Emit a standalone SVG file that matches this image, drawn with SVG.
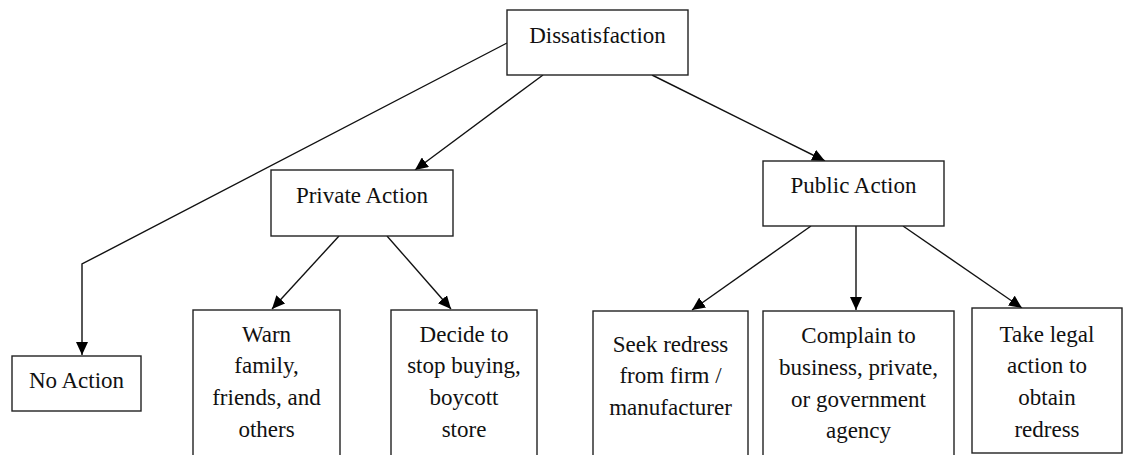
<svg xmlns="http://www.w3.org/2000/svg" width="1123" height="455" viewBox="0 0 1123 455">
  <defs>
    <marker id="arrow" markerUnits="userSpaceOnUse" markerWidth="14" markerHeight="12" refX="13" refY="6" orient="auto">
      <path d="M0,0 L13,6 L0,12 Z" fill="#000"/>
    </marker>
    <style>
      .box { fill: #fff; stroke: #222; stroke-width: 1.4; }
      .lbl { font-size: 23px; fill: #111; text-anchor: middle; }
      .conn { fill: none; stroke: #111; stroke-width: 1.4; marker-end: url(#arrow); }
    </style>
  </defs>

  <rect width="1123" height="455" fill="#fff"/>

  <!-- connectors -->
  <g id="connectors">
    <polyline class="conn" points="507,43 82,264 82,355"/>
    <line class="conn" x1="543" y1="75" x2="415" y2="170"/>
    <line class="conn" x1="652" y1="75" x2="825" y2="161"/>
    <line class="conn" x1="339" y1="236" x2="272" y2="309"/>
    <line class="conn" x1="387" y1="236" x2="451" y2="309"/>
    <line class="conn" x1="811" y1="226" x2="692" y2="310"/>
    <line class="conn" x1="856" y1="226" x2="856" y2="310"/>
    <line class="conn" x1="903" y1="226" x2="1022" y2="308"/>
  </g>

  <g font-family="'Liberation Serif', 'DejaVu Serif', serif">
  <g id="dissatisfaction">
    <rect class="box" x="507" y="10" width="181" height="65"/>
    <text class="lbl" x="597.5" y="43">Dissatisfaction</text>
  </g>

  <g id="private-action">
    <rect class="box" x="271" y="170" width="182" height="66"/>
    <text class="lbl" x="362" y="203">Private Action</text>
  </g>

  <g id="public-action">
    <rect class="box" x="763" y="161" width="181" height="65"/>
    <text class="lbl" x="853.5" y="193">Public Action</text>
  </g>

  <g id="no-action">
    <rect class="box" x="12" y="356" width="129" height="55"/>
    <text class="lbl" x="76.5" y="388">No Action</text>
  </g>

  <g id="warn">
    <rect class="box" x="193" y="310" width="147" height="160"/>
    <text class="lbl" x="266.5" y="342">Warn</text>
    <text class="lbl" x="266.5" y="373">family,</text>
    <text class="lbl" x="266.5" y="405">friends, and</text>
    <text class="lbl" x="266.5" y="437">others</text>
  </g>

  <g id="stop-buying">
    <rect class="box" x="391" y="310" width="146" height="160"/>
    <text class="lbl" x="464" y="342">Decide to</text>
    <text class="lbl" x="464" y="373">stop buying,</text>
    <text class="lbl" x="464" y="405">boycott</text>
    <text class="lbl" x="464" y="437">store</text>
  </g>

  <g id="seek-redress">
    <rect class="box" x="593" y="311" width="155" height="160"/>
    <text class="lbl" x="670.5" y="352">Seek redress</text>
    <text class="lbl" x="670.5" y="383">from firm /</text>
    <text class="lbl" x="670.5" y="415">manufacturer</text>
  </g>

  <g id="complain">
    <rect class="box" x="763" y="311" width="191" height="160"/>
    <text class="lbl" x="858.5" y="343">Complain to</text>
    <text class="lbl" x="858.5" y="375">business, private,</text>
    <text class="lbl" x="858.5" y="407">or government</text>
    <text class="lbl" x="858.5" y="438">agency</text>
  </g>

  <g id="legal-action">
    <rect class="box" x="972" y="308" width="150" height="145"/>
    <text class="lbl" x="1047" y="342">Take legal</text>
    <text class="lbl" x="1047" y="373">action to</text>
    <text class="lbl" x="1047" y="405">obtain</text>
    <text class="lbl" x="1047" y="437">redress</text>
  </g>
  </g>
</svg>
